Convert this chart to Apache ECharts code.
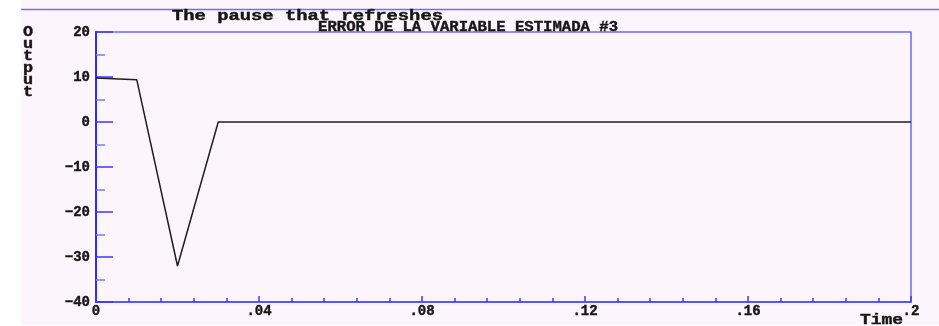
<!DOCTYPE html>
<html>
<head>
<meta charset="utf-8">
<script src="https://cdn.jsdelivr.net/npm/echarts@6/dist/echarts.min.js"></script>
<style>
  html, body { margin: 0; padding: 0; background: #fff; }
  #chart { width: 939px; height: 326px; }
</style>
</head>
<body>
<div id="chart"></div>
<script>
// data
const timeValues = [0, 0.01, 0.02, 0.03, 0.2];
const outputValues = [9.8, 9.4, -32, 0, 0];

const xTickLabels = ['0', '.04', '.08', '.12', '.16', '.2'];
const yTickValues = [-40, -30, -20, -10, 0, 10, 20];

const monoFont = '"Liberation Mono", "DejaVu Sans Mono", monospace';
const ink = '#161616';

// plain text pieces placed on the canvas (the old plot had them stretched wide)
const textItem = (text, x, y, scaleX, align, lineHeight) => ({
  type: 'text', x: x, y: y, scaleX: scaleX,
  style: {
    text: text,
    font: 'bold 14px ' + monoFont, fill: ink,
    stroke: ink, lineWidth: 0.4,
    lineHeight: lineHeight,
    textAlign: align, textVerticalAlign: 'top', align: align, verticalAlign: 'top'
  }
});

const labelStyle = {
  color: ink, fontFamily: monoFont, fontWeight: 'bold', fontSize: 14,
  textBorderColor: ink, textBorderWidth: 0.4
};

const chart = echarts.init(document.getElementById('chart'));

chart.setOption({
  backgroundColor: '#fcf5fc',
  animation: false,
  grid: {
    left: 96, right: 28, top: 32, bottom: 24,
    containLabel: false,
    outerBoundsMode: 'none',
    show: true,
    backgroundColor: 'transparent',
    borderColor: '#6a6af4',
    borderWidth: 1.5
  },
  graphic: [
    { type: 'rect', shape: { x: 0, y: 0, width: 21, height: 326 }, style: { fill: '#ffffff' } },
    { type: 'rect', shape: { x: 0, y: 325, width: 939, height: 1 }, style: { fill: '#ffffff' } },
    { type: 'line', shape: { x1: 21, y1: 9.5, x2: 939, y2: 9.5 }, style: { stroke: '#7070f2', lineWidth: 1.5 } },
    textItem('The pause that refreshes', 172, 9, 1.344, 'left', 14),
    textItem('ERROR DE LA VARIABLE ESTIMADA #3', 318, 20, 1.116, 'left', 14),
    textItem('O\nu\nt\np\nu\nt', 28, 26, 1.2, 'center', 12),
    textItem('Time', 903, 313, 1.28, 'right', 14)
  ],
  xAxis: {
    type: 'value',
    min: 0, max: 0.2, interval: 0.04,
    axisLine: { show: true, onZero: false, lineStyle: { color: '#4444ff', width: 1.5 } },
    axisTick: { show: true, inside: true, length: 6, lineStyle: { color: '#3a3aff', width: 1.5 } },
    minorTick: { show: true, splitNumber: 5, length: 4, lineStyle: { color: '#3a3aff', width: 1.5 } },
    splitLine: { show: false },
    axisLabel: Object.assign({}, labelStyle, {
      margin: 2,
      formatter: (v, i) => xTickLabels[i]
    })
  },
  yAxis: {
    type: 'value',
    min: yTickValues[0], max: yTickValues[yTickValues.length - 1], interval: 10,
    axisLine: { show: true, onZero: false, lineStyle: { color: '#2b2bff', width: 2 } },
    axisTick: { show: true, inside: true, length: 17, lineStyle: { color: '#3a3aff', width: 1.5 } },
    minorTick: { show: true, splitNumber: 2, length: 9, lineStyle: { color: '#7a7aff', width: 1.5 } },
    splitLine: { show: false },
    axisLabel: Object.assign({}, labelStyle, {
      margin: 6,
      formatter: v => (v < 0 ? '\u2212' + Math.abs(v) : String(v))
    })
  },
  series: [
    {
      name: 'Output',
      type: 'line',
      data: timeValues.map((t, i) => [t, outputValues[i]]),
      showSymbol: false,
      lineStyle: { color: '#1e1e1e', width: 1.5 },
      z: 3
    }
  ]
});
</script>
</body>
</html>
